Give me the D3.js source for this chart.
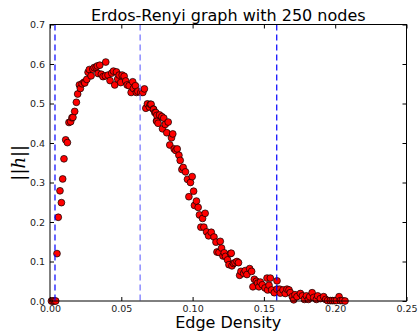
<!DOCTYPE html>
<html>
<head>
<meta charset="utf-8">
<script src="https://cdn.jsdelivr.net/npm/d3@7"></script>
<style>
  body { margin: 0; background: #fff; }
  svg { display: block; font-family: "DejaVu Sans", sans-serif; }
</style>
</head>
<body>
<div id="chart"></div>
<script>
// edge density (x) and ||h|| (y)
const density = [
  0.0010, 0.0020, 0.0030, 0.0040, 0.0049, 0.0058, 0.0070, 0.0080, 0.0089, 0.0098,
  0.0110, 0.0122, 0.0133, 0.0145, 0.0154, 0.0161, 0.0173, 0.0185, 0.0194, 0.0206,
  0.0213, 0.0225, 0.0239, 0.0244, 0.0258, 0.0267, 0.0276, 0.0288, 0.0300, 0.0309,
  0.0323, 0.0332, 0.0337, 0.0349, 0.0360, 0.0372, 0.0388, 0.0391, 0.0407, 0.0421,
  0.0433, 0.0445, 0.0454, 0.0466, 0.0475, 0.0485, 0.0496, 0.0506, 0.0520, 0.0531,
  0.0541, 0.0555, 0.0569, 0.0580, 0.0585, 0.0599, 0.0606, 0.0616, 0.0637, 0.0651,
  0.0662, 0.0672, 0.0683, 0.0697, 0.0704, 0.0709, 0.0725, 0.0726, 0.0735, 0.0742,
  0.0747, 0.0749, 0.0749, 0.0758, 0.0768, 0.0784, 0.0789, 0.0798, 0.0808, 0.0819,
  0.0829, 0.0840, 0.0852, 0.0861, 0.0871, 0.0882, 0.0892, 0.0904, 0.0913, 0.0925,
  0.0934, 0.0950, 0.0964, 0.0974, 0.0985, 0.0997, 0.1007, 0.1013, 0.1027, 0.1039,
  0.1048, 0.1058, 0.1070, 0.1079, 0.1088, 0.1098, 0.1112, 0.1131, 0.1150, 0.1164,
  0.1171, 0.1185, 0.1194, 0.1203, 0.1213, 0.1222, 0.1231, 0.1245, 0.1255, 0.1266,
  0.1271, 0.1276, 0.1287, 0.1297, 0.1311, 0.1322, 0.1330, 0.1339, 0.1358, 0.1369,
  0.1381, 0.1400, 0.1414, 0.1423, 0.1433, 0.1447, 0.1456, 0.1465, 0.1475, 0.1489,
  0.1508, 0.1522, 0.1526, 0.1536, 0.1545, 0.1554, 0.1573, 0.1592, 0.1592, 0.1610,
  0.1615, 0.1634, 0.1650, 0.1662, 0.1676, 0.1685, 0.1699, 0.1709, 0.1718, 0.1732,
  0.1756, 0.1770, 0.1784, 0.1798, 0.1812, 0.1821, 0.1838, 0.1849, 0.1868, 0.1877,
  0.1896, 0.1919, 0.1933, 0.1947, 0.1966, 0.1980, 0.1994, 0.2008, 0.2027, 0.2036,
  0.2050, 0.2069
];
const hNorm = [
  0.000, 0.000, 0.000, 0.000, 0.120, 0.212, 0.279, 0.249, 0.309, 0.360,
  0.408, 0.401, 0.452, 0.454, 0.464, 0.465, 0.480, 0.503, 0.524, 0.547,
  0.538, 0.550, 0.554, 0.552, 0.561, 0.579, 0.586, 0.570, 0.587, 0.591,
  0.592, 0.595, 0.576, 0.597, 0.574, 0.568, 0.570, 0.605, 0.572, 0.558,
  0.577, 0.582, 0.547, 0.580, 0.562, 0.572, 0.553, 0.572, 0.569, 0.557,
  0.547, 0.545, 0.528, 0.555, 0.538, 0.545, 0.528, 0.531, 0.528, 0.528,
  0.537, 0.488, 0.499, 0.491, 0.498, 0.498, 0.486, 0.485, 0.477, 0.477,
  0.456, 0.470, 0.455, 0.450, 0.471, 0.467, 0.436, 0.463, 0.447, 0.426,
  0.453, 0.395, 0.413, 0.423, 0.385, 0.381, 0.385, 0.369, 0.356, 0.333,
  0.338, 0.327, 0.308, 0.264, 0.300, 0.315, 0.278, 0.242, 0.253, 0.237,
  0.218, 0.187, 0.209, 0.187, 0.222, 0.175, 0.165, 0.174, 0.162, 0.149,
  0.124, 0.123, 0.151, 0.134, 0.114, 0.122, 0.113, 0.104, 0.092, 0.120,
  0.121, 0.089, 0.095, 0.097, 0.100, 0.097, 0.065, 0.075, 0.070, 0.077,
  0.067, 0.082, 0.075, 0.036, 0.055, 0.050, 0.045, 0.036, 0.048, 0.041,
  0.033, 0.058, 0.028, 0.040, 0.058, 0.028, 0.021, 0.051, 0.030, 0.030,
  0.020, 0.028, 0.019, 0.030, 0.028, 0.021, 0.011, 0.003, 0.016, 0.011,
  0.019, 0.013, 0.004, 0.013, 0.004, 0.011, 0.021, 0.009, 0.004, 0.013,
  0.006, 0.011, 0.004, 0.001, 0.001, 0.001, 0.001, 0.001, 0.011, 0.001,
  0.001, 0.000
];
const markerLines = [0.0035, 0.0632, 0.159];
const xTicks = [0, 0.05, 0.10, 0.15, 0.20, 0.25];
const yTicks = [0, 0.1, 0.2, 0.3, 0.4, 0.5, 0.6, 0.7];

const W = 419, H = 331;
const margin = {top: 24.5, right: 12.5, bottom: 30, left: 50};
const width = W - margin.left - margin.right;
const height = H - margin.top - margin.bottom;

const svg = d3.select('#chart').append('svg')
  .attr('width', W).attr('height', H);
const g = svg.append('g')
  .attr('transform', 'translate(' + margin.left + ',' + margin.top + ')');

const x = d3.scaleLinear().domain([0, 0.25]).range([0, width]);
const y = d3.scaleLinear().domain([0, 0.7]).range([height, 0]);

// axes with inward ticks, matplotlib-ish
const xAxis = g.append('g').attr('transform', 'translate(0,' + height + ')')
  .call(d3.axisBottom(x).tickValues(xTicks).tickSizeInner(-4).tickSizeOuter(0)
    .tickPadding(4).tickFormat(d3.format('.2f')));
const xTop = g.append('g')
  .call(d3.axisTop(x).tickValues(xTicks).tickSizeInner(-4).tickSizeOuter(0).tickFormat(''));
const yAxis = g.append('g')
  .call(d3.axisLeft(y).tickValues(yTicks).tickSizeInner(-4).tickSizeOuter(0)
    .tickPadding(5).tickFormat(d3.format('.1f')));
const yRight = g.append('g').attr('transform', 'translate(' + width + ',0)')
  .call(d3.axisRight(y).tickValues(yTicks).tickSizeInner(-4).tickSizeOuter(0).tickFormat(''));

[xAxis, xTop, yAxis, yRight].forEach(a => {
  a.select('.domain').remove();
  a.selectAll('.tick line').attr('stroke', '#000');
  a.selectAll('.tick text').attr('fill', '#222').style('font-size', '9.5px')
    .style('font-family', '"DejaVu Sans", sans-serif');
});

// data points
const pts = density.map((d, i) => ({x: d, y: hNorm[i]}));
g.append('g').selectAll('circle')
  .data(pts)
  .enter().append('circle')
  .attr('cx', d => x(d.x))
  .attr('cy', d => y(d.y))
  .attr('r', 3.4)
  .attr('fill', '#ff0000')
  .attr('stroke', '#000')
  .attr('stroke-width', 0.7);

// vertical dashed markers
g.append('g').selectAll('line')
  .data(markerLines)
  .enter().append('line')
  .attr('x1', d => x(d)).attr('x2', d => x(d))
  .attr('y1', 0).attr('y2', height)
  .attr('stroke', (d, i) => i == 1 ? '#7070ff' : '#0000ff')
  .attr('stroke-width', 1.2)
  .attr('stroke-dasharray', '6,4');

// frame
g.append('rect')
  .attr('width', width).attr('height', height)
  .attr('fill', 'none').attr('stroke', '#000').attr('stroke-width', 1);

// labels
svg.append('text')
  .attr('x', margin.left + width / 2).attr('y', 20.5)
  .attr('text-anchor', 'middle')
  .style('font-size', '16px').attr('fill', '#000')
  .text('Erdos-Renyi graph with 250 nodes');

svg.append('text')
  .attr('x', margin.left + width / 2).attr('y', 328)
  .attr('text-anchor', 'middle')
  .style('font-size', '16px').attr('fill', '#000')
  .text('Edge Density');

const yl = svg.append('text')
  .attr('transform', 'translate(25,' + (margin.top + height / 2) + ') rotate(-90)')
  .attr('text-anchor', 'middle')
  .style('font-size', '18px').attr('fill', '#000');
yl.append('tspan').style('font-family', '"DejaVu Sans", sans-serif').text('||');
yl.append('tspan').style('font-family', '"DejaVu Serif", serif').style('font-style', 'italic').text('h');
yl.append('tspan').style('font-family', '"DejaVu Sans", sans-serif').text('||');
</script>
</body>
</html>
